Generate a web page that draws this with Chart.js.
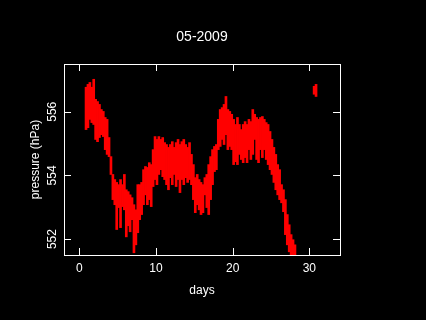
<!DOCTYPE html>
<html>
<head>
<meta charset="utf-8">
<script src="https://cdn.jsdelivr.net/npm/chart.js@4/dist/chart.umd.min.js"></script>
<style>
  html, body { margin: 0; padding: 0; background: #000; }
  canvas { display: block; }
</style>
</head>
<body>
<canvas id="pressureChart" width="426" height="320"></canvas>
<script>
// Données (jour du mois, min et max de pression par tranche de 6 h)
const days = [
    0.875, 1.125, 1.375, 1.625, 1.875, 2.125, 2.375, 2.625, 2.875, 3.125,
    3.375, 3.625, 3.875, 4.125, 4.375, 4.625, 4.875, 5.125, 5.375, 5.625,
    5.875, 6.125, 6.375, 6.625, 6.875, 7.125, 7.375, 7.625, 7.875, 8.125,
    8.375, 8.625, 8.875, 9.125, 9.375, 9.625, 9.875, 10.125, 10.375, 10.625,
    10.875, 11.125, 11.375, 11.625, 11.875, 12.125, 12.375, 12.625, 12.875, 13.125,
    13.375, 13.625, 13.875, 14.125, 14.375, 14.625, 14.875, 15.125, 15.375, 15.625,
    15.875, 16.125, 16.375, 16.625, 16.875, 17.125, 17.375, 17.625, 17.875, 18.125,
    18.375, 18.625, 18.875, 19.125, 19.375, 19.625, 19.875, 20.125, 20.375, 20.625,
    20.875, 21.125, 21.375, 21.625, 21.875, 22.125, 22.375, 22.625, 22.875, 23.125,
    23.375, 23.625, 23.875, 24.125, 24.375, 24.625, 24.875, 25.125, 25.375, 25.625,
    25.875, 26.125, 26.375, 26.625, 26.875, 27.125, 27.375, 27.625, 27.875, 28.125,
    30.625, 30.875
];

const highs = [
    556.77, 556.86, 556.92, 556.77, 557.02, 556.39, 556.32, 556.23, 556.07, 556.01,
    555.82, 555.76, 555.19, 554.59, 554.03, 553.87, 553.78, 553.71, 553.87, 553.71,
    554.03, 553.55, 553.49, 553.39, 553.30, 553.08, 552.92, 553.71, 553.71, 553.78,
    554.18, 554.28, 554.25, 554.40, 554.34, 554.81, 555.22, 555.13, 555.22, 555.13,
    555.19, 555.03, 554.97, 554.88, 554.97, 555.06, 554.88, 555.03, 555.13, 554.97,
    555.06, 555.13, 554.97, 554.88, 555.03, 554.66, 554.34, 553.93, 554.03, 553.87,
    553.78, 553.71, 553.93, 554.03, 554.34, 554.59, 554.81, 554.91, 554.97, 555.76,
    556.07, 556.13, 556.23, 556.48, 556.07, 556.01, 555.92, 555.76, 555.60, 555.82,
    555.60, 555.44, 555.60, 555.69, 555.60, 555.76, 555.69, 556.07, 555.92, 555.82,
    555.76, 555.82, 555.85, 555.76, 555.66, 555.60, 555.38, 555.13, 554.88, 554.66,
    554.34, 554.18, 553.71, 553.55, 553.24, 552.77, 552.45, 552.14, 551.98, 551.82,
    556.80, 556.86
];

const lows = [
    555.44, 555.50, 555.76, 555.66, 555.60, 555.13, 555.06, 555.19, 555.28, 555.22,
    554.81, 554.66, 554.59, 554.03, 553.24, 553.08, 552.30, 552.99, 552.36, 553.02,
    552.92, 552.07, 552.42, 552.23, 552.61, 551.57, 551.82, 552.20, 552.61, 552.77,
    553.08, 553.39, 553.08, 553.24, 553.02, 553.65, 553.87, 553.71, 554.03, 554.18,
    553.96, 553.87, 553.71, 553.55, 553.93, 553.71, 554.03, 553.65, 553.87, 553.46,
    553.87, 553.71, 553.93, 553.78, 553.87, 553.71, 553.24, 552.83, 553.08, 552.92,
    552.77, 552.83, 553.39, 552.99, 552.77, 553.24, 553.71, 554.12, 554.18, 554.81,
    554.91, 555.13, 554.97, 555.28, 554.81, 554.91, 554.81, 554.34, 554.43, 554.34,
    554.66, 554.50, 554.40, 554.56, 554.40, 554.81, 554.50, 554.66, 555.13, 554.50,
    554.40, 554.81, 554.56, 554.81, 554.50, 554.34, 554.18, 554.03, 553.78, 553.55,
    553.39, 553.24, 553.14, 552.86, 552.14, 551.82, 551.60, 551.48, 551.40, 551.40,
    556.55, 556.48
];

const xTicks = [0, 10, 20, 30];
const yTicks = [552, 554, 556];
const xRange = [-2, 34];
const yRange = [551.5, 557.5];

const textFont = "'Liberation Sans', Arial, sans-serif";

// Fond noir, cadre blanc, graduations vers l'intérieur et étiquettes verticales de l'axe Y
const framePlugin = {
    id: 'frame',
    beforeDraw(chart) {
        const ctx = chart.ctx;
        ctx.save();
        ctx.fillStyle = '#000000';
        ctx.fillRect(0, 0, chart.width, chart.height);
        ctx.restore();
    },
    afterDraw(chart) {
        const ctx = chart.ctx;
        const a = chart.chartArea;
        const xs = chart.scales.x;
        const ys = chart.scales.y;
        const len = 7;
        ctx.save();
        ctx.strokeStyle = '#FFFFFF';
        ctx.lineWidth = 1;
        ctx.strokeRect(a.left + 0.5, a.top + 0.5, a.right - a.left, a.bottom - a.top);

        ctx.beginPath();
        for (const t of xs.ticks) {
            const px = Math.round(xs.getPixelForValue(t.value)) + 0.5;
            ctx.moveTo(px, a.bottom);
            ctx.lineTo(px, a.bottom - len);
            ctx.moveTo(px, a.top);
            ctx.lineTo(px, a.top + len);
        }
        for (const t of ys.ticks) {
            const py = Math.round(ys.getPixelForValue(t.value)) + 0.5;
            ctx.moveTo(a.left, py);
            ctx.lineTo(a.left + len, py);
            ctx.moveTo(a.right, py);
            ctx.lineTo(a.right - len, py);
        }
        ctx.stroke();

        ctx.fillStyle = '#FFFFFF';
        ctx.font = '12px ' + textFont;
        ctx.textAlign = 'center';
        ctx.textBaseline = 'middle';
        for (const t of ys.ticks) {
            const py = ys.getPixelForValue(t.value);
            ctx.save();
            ctx.translate(a.left - 11.5, py);
            ctx.rotate(-Math.PI / 2);
            ctx.fillText(String(t.value), 0, 0);
            ctx.restore();
        }
        ctx.restore();
    }
};

const points = days.map((d, i) => ({ x: d, y: [lows[i], highs[i]] }));

new Chart(document.getElementById('pressureChart'), {
    type: 'bar',
    data: {
        datasets: [{
            label: 'pressure',
            data: points,
            backgroundColor: '#FF0000',
            borderWidth: 0,
            barThickness: 2,
            grouped: false
        }]
    },
    options: {
        responsive: false,
        animation: false,
        layout: {
            padding: { left: 0, right: 86, top: 0, bottom: 0 }
        },
        plugins: {
            legend: { display: false },
            tooltip: { enabled: false },
            title: {
                display: true,
                text: '05-2009',
                color: '#FFFFFF',
                fullSize: false,
                font: { family: textFont, size: 14, weight: 'normal', lineHeight: 1.2 },
                padding: { top: 28.6, bottom: 18.6 }
            }
        },
        scales: {
            x: {
                type: 'linear',
                position: 'bottom',
                min: xRange[0],
                max: xRange[1],
                offset: false,
                afterBuildTicks: s => { s.ticks = xTicks.map(v => ({ value: v })); },
                afterFit: s => { s.height = 65; },
                ticks: {
                    autoSkip: false,
                    color: '#FFFFFF',
                    padding: 6,
                    maxRotation: 0,
                    font: { family: textFont, size: 12 }
                },
                grid: { display: false, drawTicks: false },
                border: { display: false },
                title: {
                    display: true,
                    text: 'days',
                    color: '#FFFFFF',
                    font: { family: textFont, size: 12 },
                    padding: { top: 0, bottom: 21.8 }
                }
            },
            y: {
                type: 'linear',
                position: 'left',
                min: yRange[0],
                max: yRange[1],
                afterBuildTicks: s => { s.ticks = yTicks.map(v => ({ value: v })); },
                afterFit: s => { s.width = 64; },
                ticks: {
                    autoSkip: false,
                    display: false
                },
                grid: { display: false, drawTicks: false },
                border: { display: false },
                title: {
                    display: true,
                    text: 'pressure (hPa)',
                    color: '#FFFFFF',
                    font: { family: textFont, size: 12 },
                    padding: { top: 28.8, bottom: 0 }
                }
            }
        }
    },
    plugins: [framePlugin]
});
</script>
</body>
</html>
